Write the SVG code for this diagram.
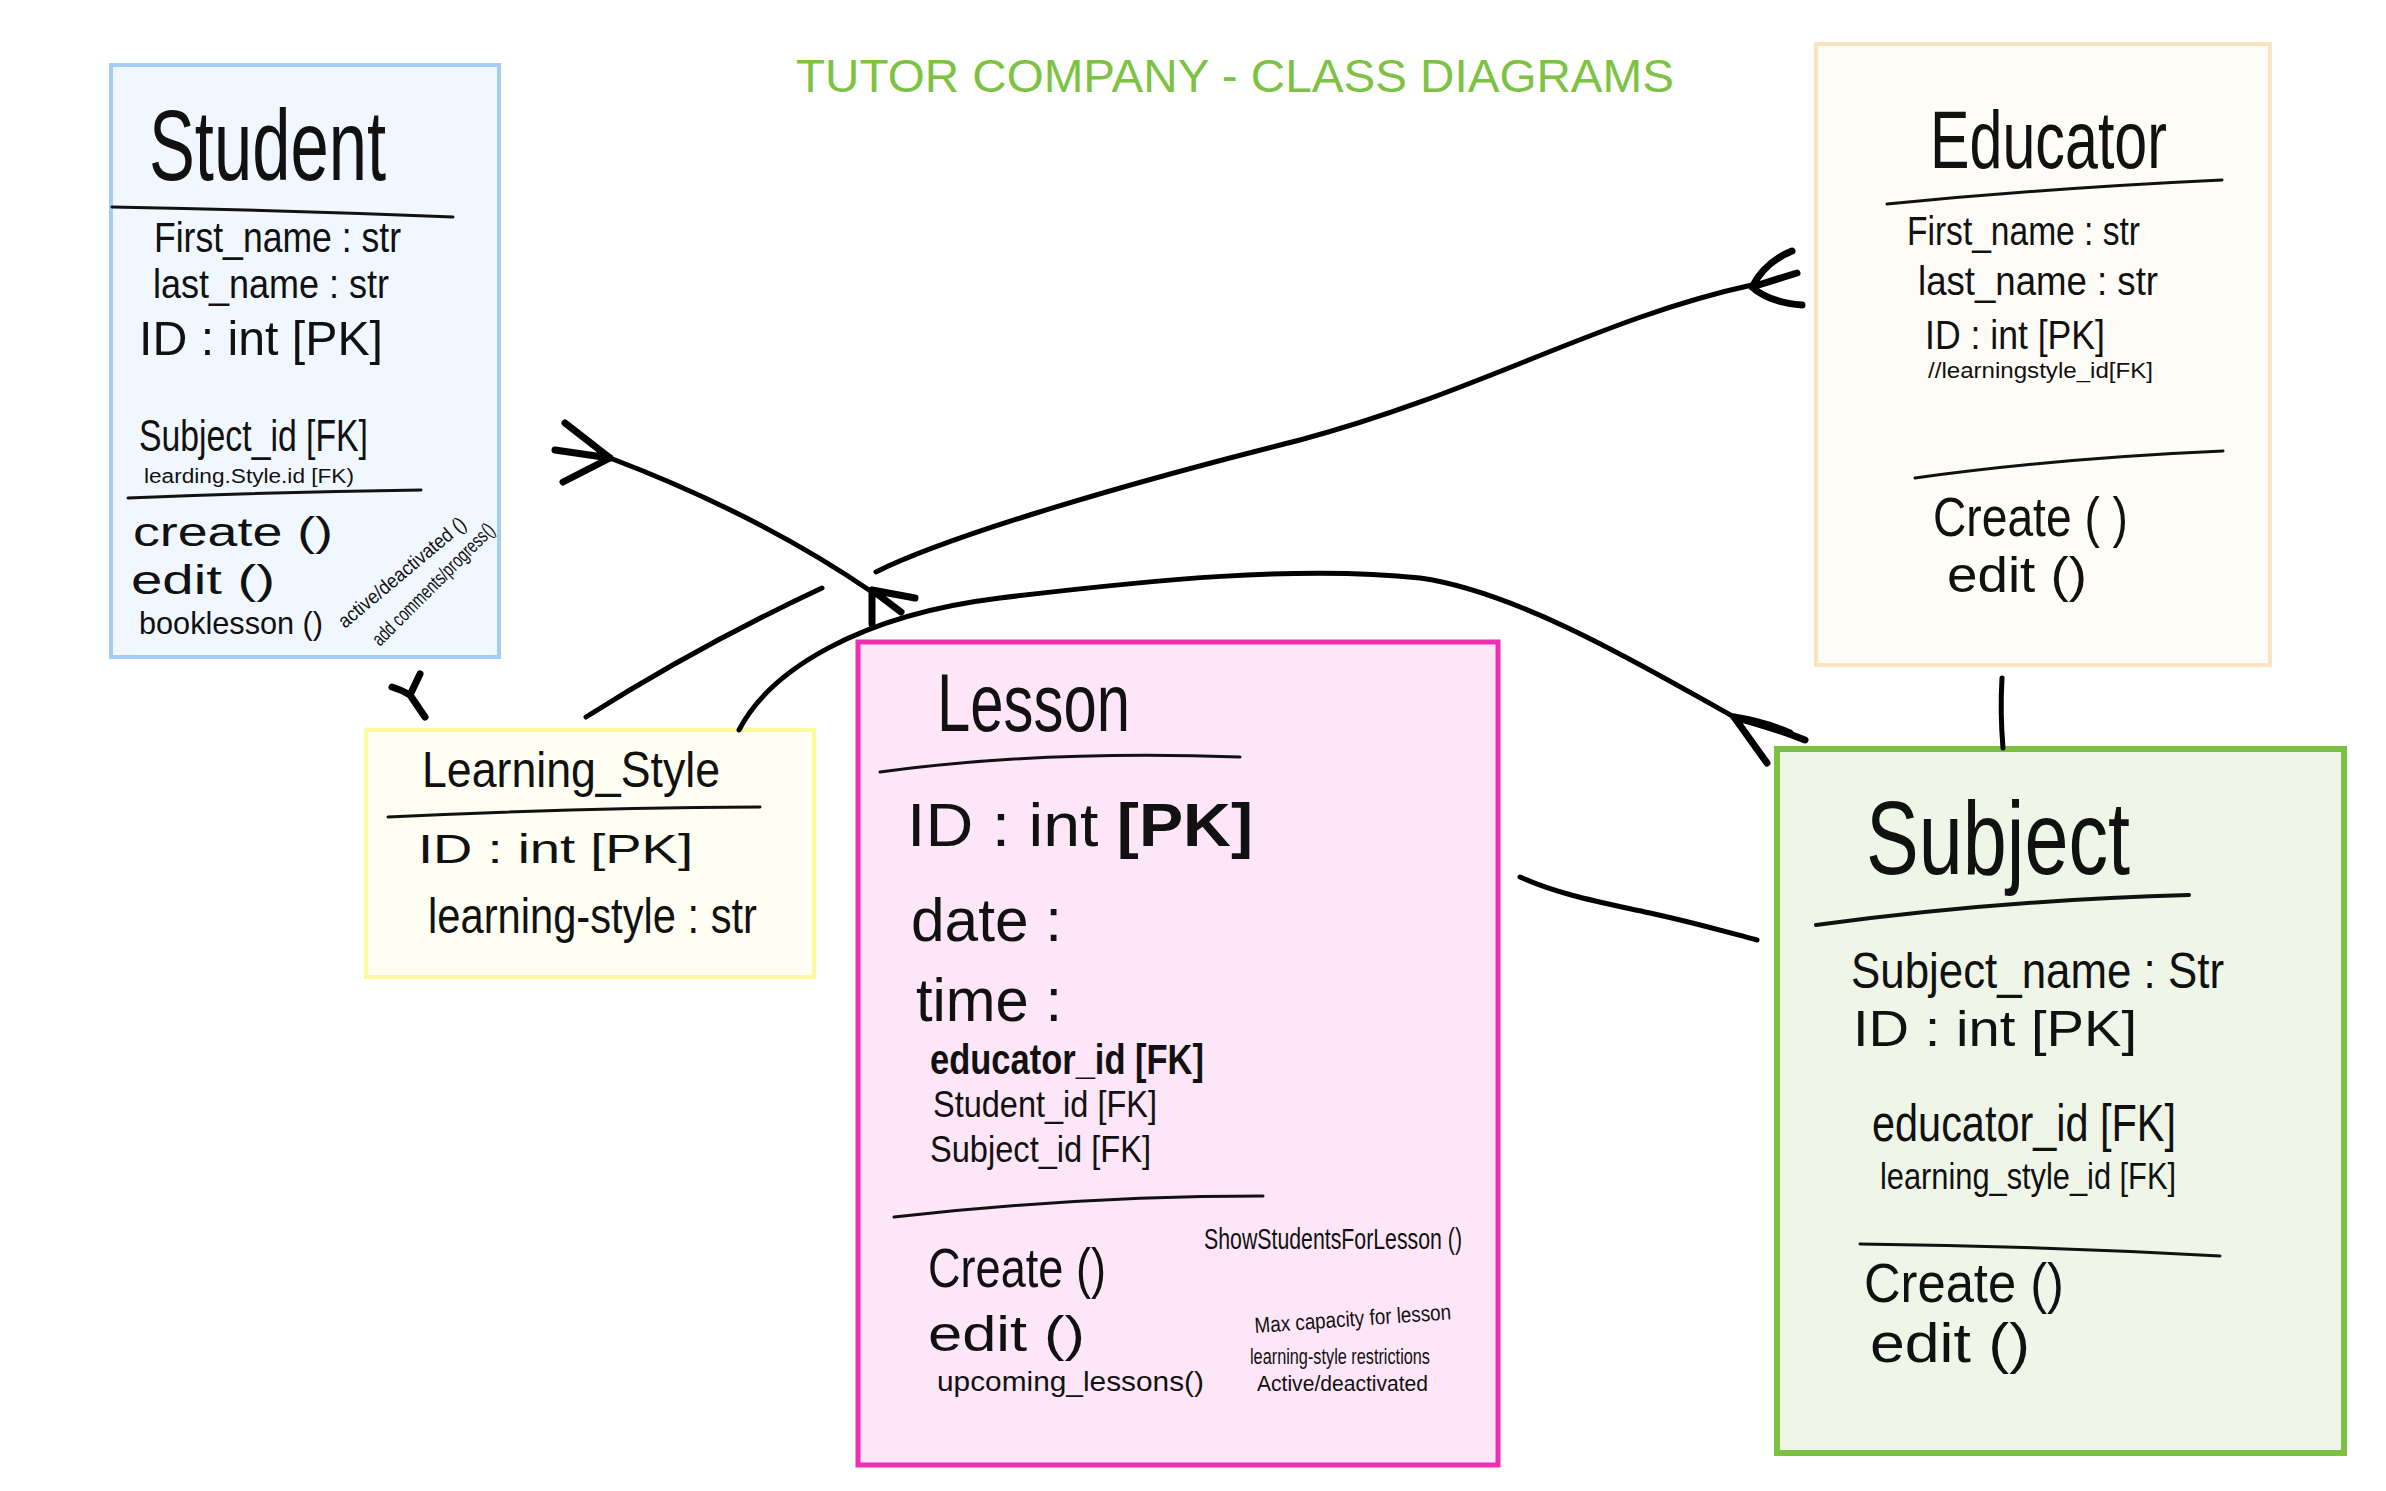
<svg xmlns="http://www.w3.org/2000/svg" width="2386" height="1491" viewBox="0 0 2386 1491">
<style>
.t{font-family:"Liberation Sans",Arial,sans-serif;fill:#111;}
.b{font-weight:bold;}
.sep{fill:none;stroke:#111;stroke-width:3;stroke-linecap:round;}
.c{fill:none;stroke:#000;stroke-width:5;stroke-linecap:round;stroke-linejoin:round;}
.cf{fill:none;stroke:#000;stroke-width:7;stroke-linecap:round;stroke-linejoin:round;}
</style>
<rect width="2386" height="1491" fill="#ffffff"/>
<text x="796" y="92" font-family="Liberation Sans, Arial, sans-serif" font-size="47" fill="#7DC242" textLength="878" lengthAdjust="spacingAndGlyphs">TUTOR COMPANY - CLASS DIAGRAMS</text>

<g id="student">
<rect x="111" y="65" width="388" height="592" fill="#F0F7FE" stroke="#A3CDF5" stroke-width="4"/>
<text class="t" x="149" y="180" font-size="100" textLength="237" lengthAdjust="spacingAndGlyphs">Student</text>
<path class="sep" d="M112,207 Q280,210 453,217"/>
<text class="t" x="154" y="252" font-size="42" textLength="247" lengthAdjust="spacingAndGlyphs">First_name : str</text>
<text class="t" x="153" y="298" font-size="40" textLength="236" lengthAdjust="spacingAndGlyphs">last_name : str</text>
<text class="t" x="139" y="355" font-size="48" textLength="244" lengthAdjust="spacingAndGlyphs">ID : int [PK]</text>
<text class="t" x="139" y="451" font-size="44" textLength="229" lengthAdjust="spacingAndGlyphs">Subject_id [FK]</text>
<text class="t" x="144" y="483" font-size="20" textLength="210" lengthAdjust="spacingAndGlyphs">learding.Style.id [FK)</text>
<path class="sep" d="M128,498 Q270,492 421,490"/>
<text class="t" x="133" y="546" font-size="40" textLength="200" lengthAdjust="spacingAndGlyphs">create ()</text>
<text class="t" x="131" y="594" font-size="40" textLength="144" lengthAdjust="spacingAndGlyphs">edit ()</text>
<text class="t" x="139" y="634" font-size="32" textLength="184" lengthAdjust="spacingAndGlyphs">booklesson ()</text>
<text class="t" font-size="20" textLength="160" lengthAdjust="spacingAndGlyphs" transform="translate(345,629) rotate(-40)">active/deactivated ()</text>
<text class="t" font-size="20" textLength="164" lengthAdjust="spacingAndGlyphs" transform="translate(380,647) rotate(-45)">add comments/progress()</text>
</g>

<g id="educator">
<rect x="1816" y="44" width="454" height="621" fill="#FEFCF6" stroke="#FCE3C2" stroke-width="4"/>
<text class="t" x="1930" y="168" font-size="82" textLength="237" lengthAdjust="spacingAndGlyphs">Educator</text>
<path class="sep" d="M1887,204 Q2050,188 2222,180"/>
<text class="t" x="1907" y="245" font-size="40" textLength="233" lengthAdjust="spacingAndGlyphs">First_name : str</text>
<text class="t" x="1918" y="295" font-size="40" textLength="240" lengthAdjust="spacingAndGlyphs">last_name : str</text>
<text class="t" x="1925" y="349" font-size="40" textLength="180" lengthAdjust="spacingAndGlyphs">ID : int [PK]</text>
<text class="t" x="1928" y="378" font-size="22" textLength="225" lengthAdjust="spacingAndGlyphs">//learningstyle_id[FK]</text>
<path class="sep" d="M1915,478 Q2060,458 2223,451"/>
<text class="t" x="1933" y="536" font-size="55" textLength="195" lengthAdjust="spacingAndGlyphs">Create ( )</text>
<text class="t" x="1947" y="592" font-size="50" textLength="140" lengthAdjust="spacingAndGlyphs">edit ()</text>
</g>

<g id="learning_style">
<rect x="366" y="730" width="448" height="247" fill="#FEFEF2" stroke="#FBFB9E" stroke-width="4"/>
<text class="t" x="422" y="787" font-size="50" textLength="298" lengthAdjust="spacingAndGlyphs">Learning_Style</text>
<path class="sep" d="M388,817 Q570,808 760,807"/>
<text class="t" x="418" y="863" font-size="40" textLength="275" lengthAdjust="spacingAndGlyphs">ID : int [PK]</text>
<text class="t" x="428" y="933" font-size="50" textLength="329" lengthAdjust="spacingAndGlyphs">learning-style : str</text>
</g>

<g id="lesson">
<rect x="858" y="642" width="640" height="823" fill="#FDE6F7" stroke="#F02EB4" stroke-width="5"/>
<text class="t" x="937" y="731" font-size="82" textLength="193" lengthAdjust="spacingAndGlyphs">Lesson</text>
<path class="sep" d="M880,772 Q1040,750 1240,757"/>
<text class="t" x="907" y="846" font-size="62" textLength="346" lengthAdjust="spacingAndGlyphs">ID : int <tspan class="b">[PK]</tspan></text>
<text class="t" x="911" y="941" font-size="62" textLength="151" lengthAdjust="spacingAndGlyphs">date :</text>
<text class="t" x="916" y="1021" font-size="62" textLength="146" lengthAdjust="spacingAndGlyphs">time :</text>
<text class="t b" x="930" y="1074" font-size="42" textLength="274" lengthAdjust="spacingAndGlyphs">educator_id [FK]</text>
<text class="t" x="933" y="1117" font-size="36" textLength="224" lengthAdjust="spacingAndGlyphs">Student_id [FK]</text>
<text class="t" x="930" y="1162" font-size="36" textLength="221" lengthAdjust="spacingAndGlyphs">Subject_id [FK]</text>
<path class="sep" d="M894,1217 Q1080,1196 1263,1196"/>
<text class="t" x="928" y="1287" font-size="56" textLength="178" lengthAdjust="spacingAndGlyphs">Create ()</text>
<text class="t" x="928" y="1351" font-size="50" textLength="157" lengthAdjust="spacingAndGlyphs">edit ()</text>
<text class="t" x="937" y="1391" font-size="28" textLength="267" lengthAdjust="spacingAndGlyphs">upcoming_lessons()</text>
<text class="t" x="1204" y="1249" font-size="30" textLength="258" lengthAdjust="spacingAndGlyphs">ShowStudentsForLesson ()</text>
<text class="t" x="1255" y="1333" font-size="22" textLength="197" lengthAdjust="spacingAndGlyphs" transform="rotate(-4 1255 1333)">Max capacity for lesson</text>
<text class="t" x="1250" y="1364" font-size="22" textLength="180" lengthAdjust="spacingAndGlyphs">learning-style restrictions</text>
<text class="t" x="1257" y="1391" font-size="22" textLength="171" lengthAdjust="spacingAndGlyphs">Active/deactivated</text>
</g>

<g id="subject">
<rect x="1777" y="749" width="567" height="704" fill="#EFF6E8" stroke="#7DC142" stroke-width="6"/>
<text class="t" x="1866" y="874" font-size="104" textLength="264" lengthAdjust="spacingAndGlyphs">Subject</text>
<path class="sep" d="M1816,925 Q2000,900 2189,895" style="stroke-width:4"/>
<text class="t" x="1851" y="988" font-size="50" textLength="373" lengthAdjust="spacingAndGlyphs">Subject_name : Str</text>
<text class="t" x="1853" y="1046" font-size="50" textLength="284" lengthAdjust="spacingAndGlyphs">ID : int [PK]</text>
<text class="t" x="1872" y="1141" font-size="52" textLength="304" lengthAdjust="spacingAndGlyphs">educator_id [FK]</text>
<text class="t" x="1880" y="1189" font-size="36" textLength="296" lengthAdjust="spacingAndGlyphs">learning_style_id [FK]</text>
<path class="sep" d="M1860,1244 Q2040,1246 2220,1256"/>
<text class="t" x="1864" y="1302" font-size="55" textLength="200" lengthAdjust="spacingAndGlyphs">Create ()</text>
<text class="t" x="1870" y="1362" font-size="55" textLength="160" lengthAdjust="spacingAndGlyphs">edit ()</text>
</g>

<g id="connectors">
<path class="c" d="M610,458 Q760,515 872,592"/>
<path class="cf" d="M565,423 L610,458 M555,450 L610,458 M563,482 L610,458"/>
<path class="cf" d="M872,590 L872,624 M872,590 L901,612 M872,590 L915,598"/>
<path class="c" d="M876,572 C940,540 1100,490 1300,440 C1480,392 1600,318 1752,285"/>
<path class="cf" d="M1752,287 Q1765,262 1792,251 M1752,287 L1797,273 M1752,287 Q1768,302 1802,305"/>
<path class="c" d="M586,717 Q700,645 822,588"/>
<path class="c" d="M739,730 C770,670 860,615 1000,598 C1150,580 1300,565 1420,578 C1520,592 1650,670 1734,717"/>
<path class="cf" d="M1734,717 L1767,763 M1734,717 Q1765,722 1790,733 M1734,717 Q1775,728 1805,740"/>
<path class="c" d="M1520,877 C1560,895 1600,902 1650,913 S1730,933 1757,940"/>
<path class="c" d="M2002,678 Q2000,712 2003,748"/>
<path class="cf" d="M392,687 Q402,690 410,695 M420,674 L410,695 L425,717"/>
</g>
</svg>
